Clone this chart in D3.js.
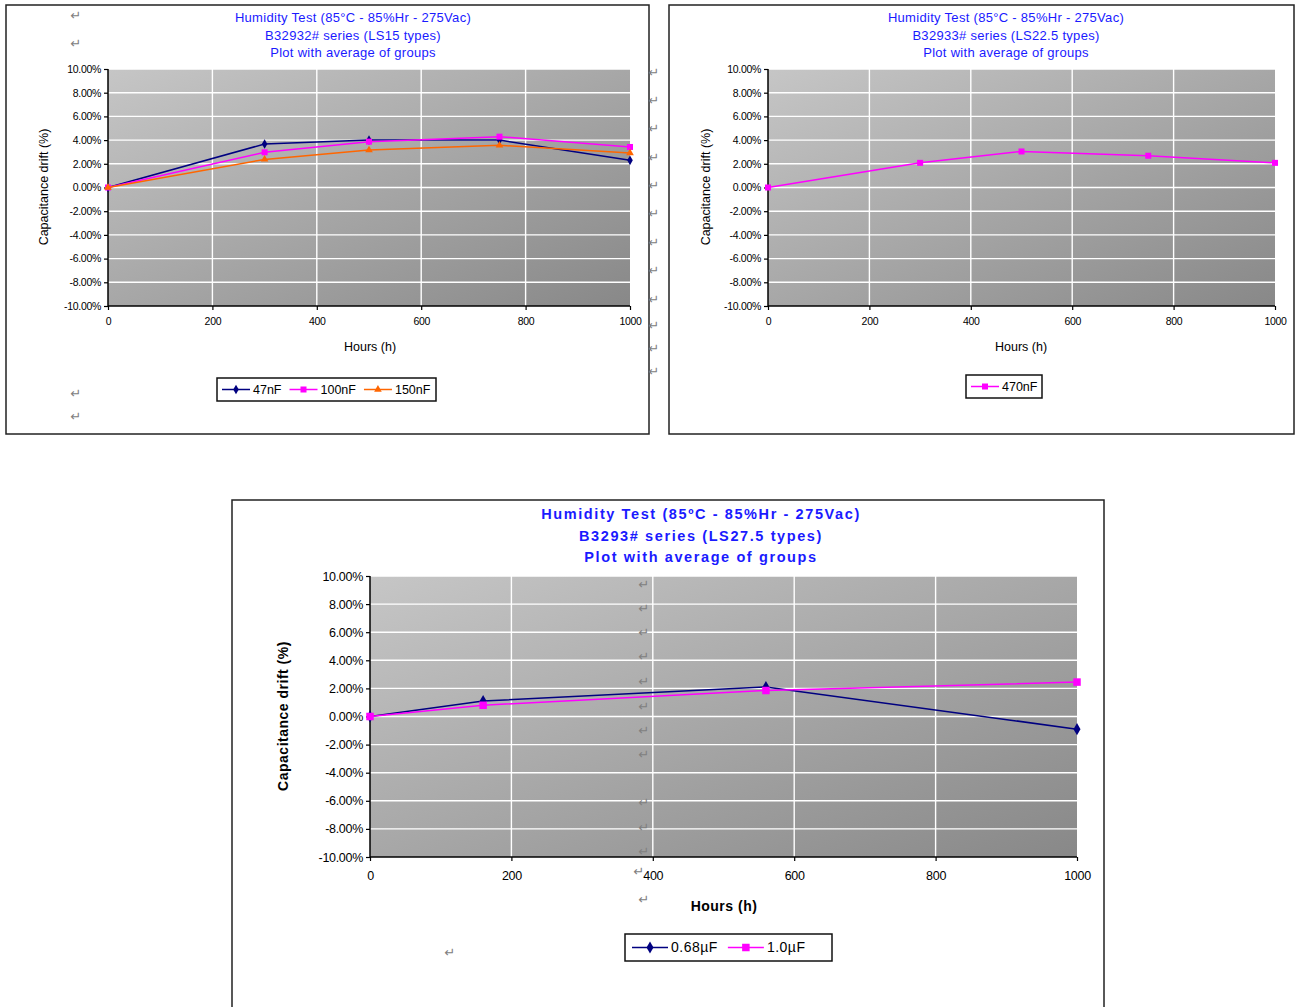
<!DOCTYPE html>
<html><head><meta charset="utf-8">
<script src="https://cdn.jsdelivr.net/npm/d3@7"></script>
<style>
html,body{margin:0;padding:0;background:#fff;}
svg{display:block;}
</style></head>
<body>
<script>
// ---------- data ----------
const xTicks = [0, 200, 400, 600, 800, 1000];
const yTicks = [-10, -8, -6, -4, -2, 0, 2, 4, 6, 8, 10];

const hoursLS15 = [0, 300, 500, 750, 1000];
const drift47nF  = [0, 3.67, 4.00, 4.00, 2.29];
const drift100nF = [0, 2.97, 3.87, 4.29, 3.42];
const drift150nF = [0, 2.37, 3.16, 3.56, 2.91];

const hoursLS225 = [0, 300, 500, 750, 1000];
const drift470nF = [0, 2.08, 3.04, 2.68, 2.08];

const hoursLS275 = [0, 160, 560, 1000];
const drift068uF = [0, 1.10, 2.10, -0.90];
const drift10uF  = [0, 0.80, 1.85, 2.45];

const titles1 = ["Humidity Test  (85°C - 85%Hr - 275Vac)", "B32932# series (LS15 types)", "Plot with average of groups"];
const titles2 = ["Humidity Test  (85°C - 85%Hr - 275Vac)", "B32933# series (LS22.5 types)", "Plot with average of groups"];
const titles3 = ["Humidity Test  (85ºC - 85%Hr - 275Vac)", "B3293# series (LS27.5 types)", "Plot with average of groups"];

// ---------- drawing ----------
const W = 1296, H = 1007;
const svg = d3.select("body").append("svg").attr("width", W).attr("height", H);
const defs = svg.append("defs");
const grad = defs.append("linearGradient").attr("id", "bg").attr("x1", 0).attr("y1", 0).attr("x2", 1).attr("y2", 1);
grad.append("stop").attr("offset", "0%").attr("stop-color", "#c6c6c6");
grad.append("stop").attr("offset", "100%").attr("stop-color", "#888888");

const COLORS = {navy: "#000080", magenta: "#ff00ff", orange: "#ff6600"};

function marker(g, type, x, y, color, s) {
  if (type === "diamond") {
    g.append("path").attr("d", d3.symbol(d3.symbolDiamond, s * s * 0.75)()).attr("transform", `translate(${x},${y})`).attr("fill", color);
  } else if (type === "square") {
    g.append("rect").attr("x", x - s / 2).attr("y", y - s / 2).attr("width", s).attr("height", s).attr("fill", color);
  } else {
    g.append("path").attr("d", d3.symbol(d3.symbolTriangle, s * s * 0.7)()).attr("transform", `translate(${x},${y})`).attr("fill", color);
  }
}

function drawChart(c) {
  const g = svg.append("g");
  g.append("rect").attr("x", c.frame[0]).attr("y", c.frame[1]).attr("width", c.frame[2]).attr("height", c.frame[3])
    .attr("fill", "#fff").attr("stroke", "#222").attr("stroke-width", 1.5);

  const x = d3.scaleLinear().domain([0, 1000]).range([c.plot[0], c.plot[1]]);
  const y = d3.scaleLinear().domain([-10, 10]).range([c.plot[3], c.plot[2]]);

  g.append("rect").attr("x", c.plot[0]).attr("y", c.plot[2]).attr("width", c.plot[1] - c.plot[0]).attr("height", c.plot[3] - c.plot[2])
    .attr("fill", "url(#bg)");

  g.selectAll(".hg").data(yTicks.filter(v => v > -10)).enter().append("line")
    .attr("x1", c.plot[0]).attr("x2", c.plot[1]).attr("y1", d => y(d)).attr("y2", d => y(d))
    .attr("stroke", "#fff").attr("stroke-width", 1.4);
  g.selectAll(".vg").data(xTicks.filter(v => v > 0 && v < 1000)).enter().append("line")
    .attr("y1", c.plot[2]).attr("y2", c.plot[3]).attr("x1", d => x(d)).attr("x2", d => x(d))
    .attr("stroke", "#fff").attr("stroke-width", 1.4);

  const ya = d3.axisLeft(y).tickValues(yTicks).tickSize(4).tickPadding(3).tickFormat(d => d.toFixed(2) + "%");
  const xa = d3.axisBottom(x).tickValues(xTicks).tickSize(4).tickPadding(c.xpad).tickFormat(d3.format("d"));
  const gy = g.append("g").attr("transform", `translate(${c.plot[0]},0)`).call(ya);
  const gx = g.append("g").attr("transform", `translate(0,${c.plot[3]})`).call(xa);
  [gy, gx].forEach(a => {
    a.select(".domain").attr("stroke", "#000").attr("stroke-width", 1.5);
    a.selectAll(".tick line").attr("stroke", "#000").attr("stroke-width", 1.2);
    a.selectAll("text").attr("fill", "#000").attr("font-family", c.font).attr("font-size", c.tickSize)
      .attr("font-weight", c.tickWeight).attr("letter-spacing", c.tickLS);
  });
  gy.select(".domain").attr("d", `M0,${c.plot[2]}V${c.plot[3]}`);
  gx.select(".domain").attr("d", `M${c.plot[0]},0H${c.plot[1]}`);

  c.titles.forEach((t, i) => {
    g.append("text").attr("x", c.titleX).attr("y", c.titleY[i]).attr("text-anchor", "middle")
      .attr("font-family", c.font).attr("font-size", c.titleSize).attr("font-weight", c.titleWeight)
      .attr("letter-spacing", c.titleLS).attr("fill", "#1a1aff").text(t);
  });
  g.append("text").attr("x", c.xLabel[0]).attr("y", c.xLabel[1]).attr("text-anchor", "middle")
    .attr("font-family", c.font).attr("font-size", c.labelSize).attr("font-weight", c.labelWeight)
    .attr("letter-spacing", c.labelLS).text("Hours (h)");
  g.append("text").attr("transform", `translate(${c.yLabel[0]},${c.yLabel[1]}) rotate(-90)`).attr("text-anchor", "middle")
    .attr("font-family", c.font).attr("font-size", c.labelSize).attr("font-weight", c.labelWeight)
    .attr("letter-spacing", c.labelLS).text("Capacitance drift (%)");

  const line = d3.line().x(d => x(d[0])).y(d => y(d[1]));
  c.series.forEach(s => {
    const pts = s.hours.map((h, i) => [h, s.values[i]]);
    g.append("path").attr("d", line(pts)).attr("fill", "none").attr("stroke", s.color).attr("stroke-width", 1.5);
    const mg = g.append("g");
    pts.forEach(p => marker(mg, s.marker, x(p[0]), y(p[1]), s.color, c.markerSize));
  });

  const L = c.legend;
  const lg = g.append("g");
  lg.append("rect").attr("x", L.x).attr("y", L.y).attr("width", L.w).attr("height", L.h)
    .attr("fill", "#fff").attr("stroke", "#111").attr("stroke-width", 1.5);
  let cx = L.x + L.pad;
  const cy = L.y + L.h / 2;
  c.series.forEach(s => {
    lg.append("line").attr("x1", cx).attr("x2", cx + L.lineLen).attr("y1", cy).attr("y2", cy).attr("stroke", s.color).attr("stroke-width", 1.5);
    marker(lg, s.marker, cx + L.lineLen / 2, cy, s.color, c.markerSize);
    cx += L.lineLen + 3;
    const t = lg.append("text").attr("x", cx).attr("y", cy).attr("dy", "0.35em")
      .attr("font-family", c.font).attr("font-size", L.fs).attr("letter-spacing", c.labelLS).text(s.name);
    cx += t.node().getComputedTextLength() + L.gap;
  });
}

const narrow = "'Liberation Sans Narrow', 'Arial Narrow', 'Liberation Sans', sans-serif";
drawChart({
  frame: [6, 5, 643, 429], plot: [108, 630, 69, 306], font: narrow,
  tickSize: 10.5, tickWeight: "normal", tickLS: -0.3, xpad: 8,
  titles: titles1, titleX: 353, titleY: [22, 40, 57], titleSize: 13, titleWeight: "normal", titleLS: 0.3,
  labelSize: 12.5, labelWeight: "normal", labelLS: 0,
  xLabel: [370, 351], yLabel: [48, 187], markerSize: 6,
  series: [
    {name: "47nF", hours: hoursLS15, values: drift47nF, color: COLORS.navy, marker: "diamond"},
    {name: "100nF", hours: hoursLS15, values: drift100nF, color: COLORS.magenta, marker: "square"},
    {name: "150nF", hours: hoursLS15, values: drift150nF, color: COLORS.orange, marker: "triangle"}
  ],
  legend: {x: 217, y: 378, w: 219, h: 23, pad: 5, lineLen: 28, gap: 8, fs: 12.5}
});
drawChart({
  frame: [669, 5, 625, 429], plot: [768, 1275, 69, 306], font: narrow,
  tickSize: 10.5, tickWeight: "normal", tickLS: -0.3, xpad: 8,
  titles: titles2, titleX: 1006, titleY: [22, 40, 57], titleSize: 13, titleWeight: "normal", titleLS: 0.3,
  labelSize: 12.5, labelWeight: "normal", labelLS: 0,
  xLabel: [1021, 351], yLabel: [710, 187], markerSize: 6,
  series: [
    {name: "470nF", hours: hoursLS225, values: drift470nF, color: COLORS.magenta, marker: "square"}
  ],
  legend: {x: 966, y: 375, w: 76, h: 23, pad: 5, lineLen: 28, gap: 8, fs: 12.5}
});
drawChart({
  frame: [232, 500, 872, 520], plot: [370, 1077, 576, 857], font: "'Liberation Sans', Arial, sans-serif",
  tickSize: 12.5, tickWeight: "normal", tickLS: -0.3, xpad: 10,
  titles: titles3, titleX: 701, titleY: [519, 541, 562], titleSize: 14.5, titleWeight: "bold", titleLS: 1.6,
  labelSize: 14, labelWeight: "bold", labelLS: 0.5,
  xLabel: [724, 911], yLabel: [288, 716], markerSize: 7.5,
  series: [
    {name: "0.68µF", hours: hoursLS275, values: drift068uF, color: COLORS.navy, marker: "diamond"},
    {name: "1.0µF", hours: hoursLS275, values: drift10uF, color: COLORS.magenta, marker: "square"}
  ],
  legend: {x: 625, y: 934, w: 207, h: 27, pad: 7, lineLen: 36, gap: 10, fs: 14}
});

// paragraph marks (document artefacts)
const markPos = [
  [76, 15], [76, 43], [76, 393], [76, 416],
  [654, 72], [654, 100], [654, 128], [654, 157], [654, 185], [654, 213], [654, 242], [654, 270], [654, 299], [654, 325], [654, 348], [654, 371],
  [644, 584], [644, 608], [644, 632], [644, 656], [644, 681], [644, 706], [644, 730], [644, 754], [644, 802], [644, 827], [644, 851], [639, 871], [644, 899],
  [450, 952]
];
svg.append("g").selectAll("text").data(markPos).enter().append("text")
  .attr("x", d => d[0]).attr("y", d => d[1]).attr("dy", "0.35em").attr("text-anchor", "middle")
  .attr("font-family", "'DejaVu Sans', sans-serif").attr("font-size", 13).attr("fill", "#808080").text("↵");
</script>
</body></html>
